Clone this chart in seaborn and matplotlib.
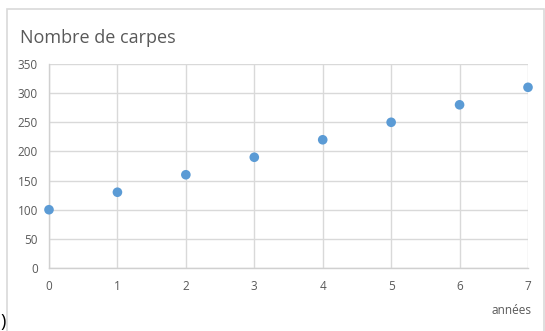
import matplotlib
matplotlib.use("Agg")
import matplotlib.pyplot as plt
from matplotlib.patches import Rectangle
import seaborn as sns
import pandas as pd

years = [0, 1, 2, 3, 4, 5, 6, 7]
carps = [100, 130, 160, 190, 220, 250, 280, 310]
y_ticks = [0, 50, 100, 150, 200, 250, 300, 350]

sns.set_theme(style="white")
plt.rcParams["font.family"] = ["Open Sans", "DejaVu Sans"]

df = pd.DataFrame({"années": years, "carpes": carps})

W, H = 545, 331
fig = plt.figure(figsize=(W / 100, H / 100), dpi=100)
fig.patch.set_facecolor("white")

# chart frame
fig.patches.append(Rectangle((7 / W, -0.05), (544 - 7) / W, (H - 9) / H + 0.05,
                             transform=fig.transFigure, fill=False,
                             edgecolor="#D9D9D9", linewidth=1.2))

ax = fig.add_axes([49 / W, (H - 268) / H, (528 - 49) / W, (268 - 64) / H])
sns.scatterplot(data=df, x="années", y="carpes", ax=ax, s=48,
                color="#5B9BD5", edgecolor="none", clip_on=False, zorder=5)

ax.set_xlim(0, 7)
ax.set_ylim(0, 350)
ax.set_xticks(years)
ax.set_yticks(y_ticks)
ax.grid(True, color="#D9D9D9", linewidth=1)
ax.set_axisbelow(True)
for side in ["top", "right"]:
    ax.spines[side].set_visible(False)
for side in ["left", "bottom"]:
    ax.spines[side].set_color("#D0D0D0")
    ax.spines[side].set_linewidth(1)
ax.tick_params(axis="both", length=0, labelsize=8.5, labelcolor="#595959")
ax.tick_params(axis="x", pad=9)
ax.tick_params(axis="y", pad=8)
ax.set_xlabel("")
ax.set_ylabel("")

fig.text(20 / W, 1 - 38 / H, "Nombre de carpes", fontsize=13, color="#595959",
         ha="left", va="center")
fig.text(532 / W, 1 - 310 / H, "années", fontsize=8.5, color="#595959",
         ha="right", va="center")
fig.text(0.5 / W, 1 - 322 / H, ")", fontsize=13, color="black",
         ha="left", va="center")

fig.savefig("out.png", dpi=100, facecolor="white")
